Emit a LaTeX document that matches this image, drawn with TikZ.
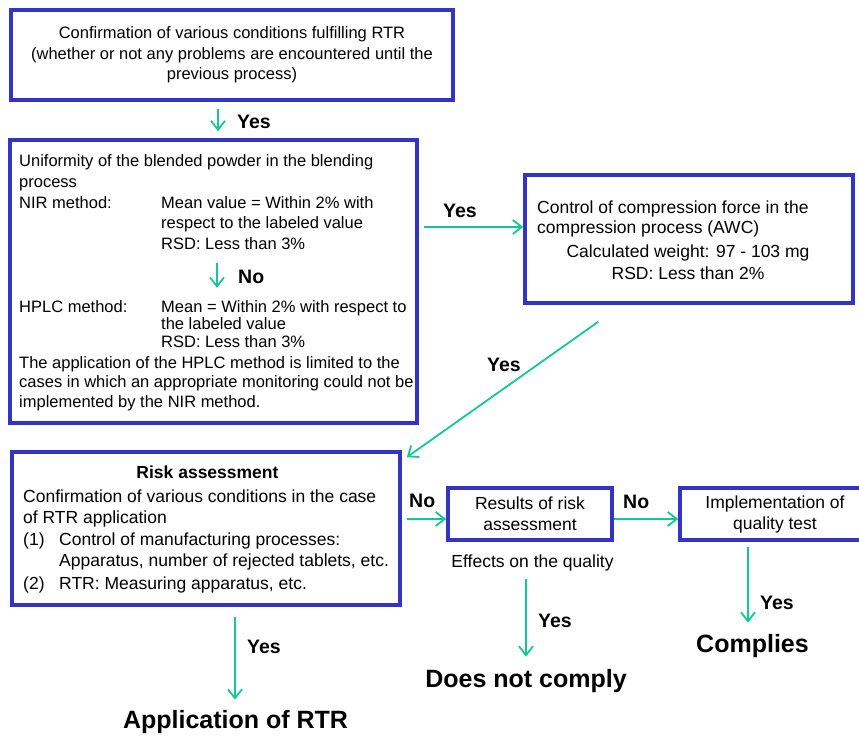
\documentclass[tikz,border=0pt]{standalone}
\usepackage{fontspec}
\setmainfont{Liberation Sans}
\usetikzlibrary{arrows.meta}

\definecolor{boxblue}{RGB}{51,51,200}
\definecolor{flowgreen}{RGB}{20,200,150}

\tikzset{
  box/.style={draw=boxblue, line width=3.5pt, inner sep=0pt},
  smalltxt/.style={inner sep=0pt, align=left, font=\fontsize{16.5}{20.5}\selectfont},
  bigtxt/.style={inner sep=0pt, align=left, font=\fontsize{17.5}{21}\selectfont},
  flow/.style={draw=flowgreen, line width=1.8pt, -{Straight Barb[length=9pt,width=14pt]}},
  lbl/.style={inner sep=0pt, font=\bfseries\fontsize{19.5}{22}\selectfont},
  verdict/.style={inner sep=0pt, font=\bfseries\fontsize{25}{30}\selectfont},
}

\begin{document}
\begin{tikzpicture}[x=1pt, y=-1pt]
\useasboundingbox (0,0) rectangle (859,736);
\clip (0,0) rectangle (859,736);

% conditions box
\node[box, smalltxt, align=center, minimum width=442pt, minimum height=90pt] (cond) at (232,55)
  {Confirmation of various conditions fulfilling RTR\\(whether or not any problems are encountered until the\\previous process)};

% blending box (base of a text block = its last line)
\node[box, minimum width=407pt, minimum height=283pt] (blend) at (213.5,281.5) {};
\node[smalltxt, anchor=base west] (blendhead) at (19,187) {Uniformity of the blended powder in the blending\\process};
\node[smalltxt, anchor=base west] (nirname) at (19,208) {NIR method:};
\node[smalltxt, anchor=base west] (nircrit) at (161,249) {Mean value = Within 2\% with\\respect to the labeled value\\RSD: Less than 3\%};
\node[smalltxt, anchor=base west] (hplcname) at (19,312) {HPLC method:};
\node[smalltxt, anchor=base west, font=\fontsize{16.5}{17.5}\selectfont] (hplccrit) at (161,347) {Mean = Within 2\% with respect to\\the labeled value\\RSD: Less than 3\%};
\node[smalltxt, anchor=base west, font=\fontsize{16.5}{19.5}\selectfont] (hplcnote) at (19,407) {The application of the HPLC method is limited to the\\cases in which an appropriate monitoring could not be\\implemented by the NIR method.};

% compression box
\node[box, minimum width=328pt, minimum height=128pt] (awc) at (689,239) {};
\node[bigtxt, anchor=base west, font=\fontsize{17.5}{20}\selectfont] (awchead) at (537,233) {Control of compression force in the\\compression process (AWC)};
\node[bigtxt, anchor=base, align=center, font=\fontsize{17.5}{22.5}\selectfont] (awccrit) at (688,279.5) {Calculated weight: 97 - 103 mg\\RSD: Less than 2\%};

% risk box
\node[box, minimum width=388pt, minimum height=153pt] (risk) at (206,528.5) {};
\node[bigtxt, anchor=base, font=\bfseries\fontsize{17.5}{21}\selectfont] (riskhead) at (207.5,478) {Risk assessment};
\node[bigtxt, anchor=base west] (riskcond) at (23,523) {Confirmation of various conditions in the case\\of RTR application};
\node[bigtxt, anchor=base west] (riskone) at (23,545) {(1)};
\node[bigtxt, anchor=base west] (riskonetxt) at (59,566) {Control of manufacturing processes:\\Apparatus, number of rejected tablets, etc.};
\node[bigtxt, anchor=base west] (risktwo) at (23,589) {(2)};
\node[bigtxt, anchor=base west] (risktwotxt) at (59,589) {RTR: Measuring apparatus, etc.};

% small boxes
\node[box, bigtxt, align=center, minimum width=164pt, minimum height=52pt] (results) at (530,514) {Results of risk\\assessment};
\node[box, bigtxt, align=center, minimum width=190pt, minimum height=52pt] (impl) at (775,514) {Implementation of\\quality test};
\node[bigtxt, anchor=base] (effects) at (532.5,567) {Effects on the quality};

% verdicts
\node[verdict, anchor=base] (app) at (235.5,728) {Application of RTR};
\node[verdict, anchor=base] (notcomply) at (526,687) {Does not comply};
\node[verdict, anchor=base] (complies) at (752.5,652) {Complies};

% connectors
\draw[flow, shorten <=7pt, shorten >=7pt] (cond.south -| 218,0) -- (blend.north -| 218,0);
\draw[flow, shorten <=13.5pt, shorten >=12pt] (nircrit.south -| 217,0) -- (hplccrit.north -| 217,0);
\draw[flow, shorten <=5pt] (blend.east |- 0,227) -- (awc.west |- 0,227);
\draw[flow] ([shift={(75,17)}]awc.south west) -- ([shift={(5,7)}]risk.north east);
\draw[flow, shorten <=5pt] (risk.east |- 0,519) -- (results.west |- 0,519);
\draw[flow] (results.east |- 0,519) -- (impl.west |- 0,519);
\draw[flow, shorten <=10pt, shorten >=10pt] (risk.south -| 235,0) -- (app.north -| 235,0);
\draw[flow, shorten <=8pt, shorten >=12pt] (effects.south -| 526,0) -- (notcomply.north -| 526,0);
\draw[flow, shorten <=5pt, shorten >=11pt] (impl.south -| 748,0) -- (complies.north -| 748,0);

% labels
\node[lbl, anchor=base west] (yestop) at (237,128) {Yes};
\node[lbl, anchor=base west] (nonir) at (238,283) {No};
\node[lbl, anchor=base west] (yesawc) at (443,217) {Yes};
\node[lbl, anchor=base west] (yesrisk) at (487,371) {Yes};
\node[lbl, anchor=base west] (norisk) at (409,507) {No};
\node[lbl, anchor=base west] (noimpl) at (623,508) {No};
\node[lbl, anchor=base west] (yesnot) at (538,627) {Yes};
\node[lbl, anchor=base west] (yescomp) at (760,609) {Yes};
\node[lbl, anchor=base west] (yesapp) at (247,653) {Yes};

\end{tikzpicture}
\end{document}
